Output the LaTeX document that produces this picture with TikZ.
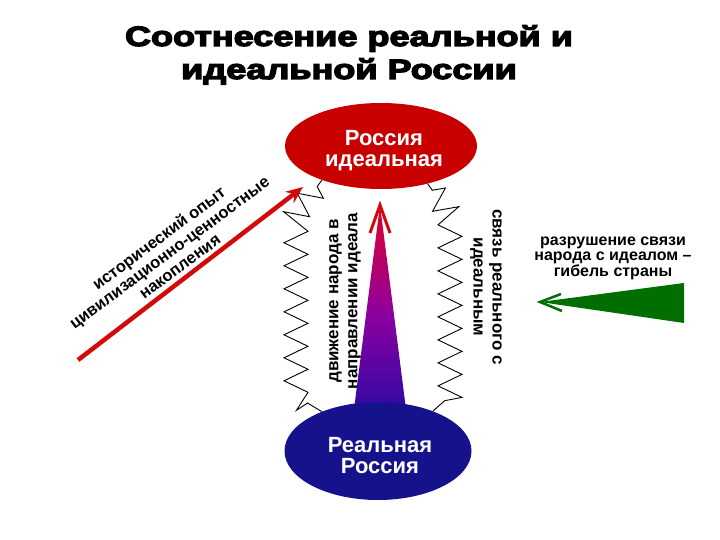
\documentclass[tikz,border=0pt]{standalone}
\usepackage{fontspec}
\setmainfont{Liberation Sans}
\newfontfamily\heavyfont[FakeBold=4]{Liberation Sans}
\usetikzlibrary{shapes.geometric, arrows.meta, decorations.pathmorphing, calc}
\definecolor{idealred}{RGB}{200,0,0}
\definecolor{realblue}{RGB}{22,18,140}
\definecolor{arrowred}{RGB}{210,10,10}
\definecolor{darkgreen}{RGB}{0,110,0}
\definecolor{tritop}{RGB}{225,0,45}
\definecolor{trimid}{RGB}{140,0,160}
\definecolor{tribot}{RGB}{35,10,165}
\begin{document}
\begin{tikzpicture}[x=1pt,y=-1pt,
  blob/.style={ellipse, inner sep=0pt},
  blobtxt/.style={inner sep=0pt, text=white, font=\fontsize{22}{21}\selectfont\bfseries, align=center},
  lbl/.style={font=\fontsize{16.5}{17.5}\selectfont\bfseries, align=center, inner sep=0pt},
  rlbl/.style={font=\fontsize{16}{15.5}\selectfont\bfseries, align=center, inner sep=0pt},
  vlbl/.style={font=\fontsize{17}{19}\selectfont\bfseries, align=center, inner sep=0pt},
  wavy/.style={black, line width=0.9pt, decorate, decoration={zigzag, segment length=23pt, amplitude=12pt, pre length=8pt, post length=6pt}},
]
\useasboundingbox (0,0) rectangle (720,540);
\fill[white] (0,0) rectangle (720,540);

% title
\node[anchor=base, inner sep=0pt] (title) at (349,46)
  {\fontsize{28}{33}\selectfont\heavyfont\bfseries
   \resizebox{448pt}{\height}{\begin{tabular}[t]{@{}c@{}}Соотнесение реальной и\\идеальной России\end{tabular}}};

% gradient triangle (behind ellipses)
\coordinate (apex) at (380,205);
\path[top color=tritop, bottom color=tribot, middle color=trimid] (apex) -- (408,425) -- (352,425) -- cycle;

% ellipses
\node[blob, fill=idealred, minimum width=192pt, minimum height=86pt] (ideal) at (381,146) {};
\node[blobtxt] (idealtxt) at (384,151) {Россия\\идеальная};
\node[blob, fill=realblue, minimum width=187pt, minimum height=98pt] (real) at (378,451) {};
\node[blobtxt] (realtxt) at (380,456) {Реальная\\Россия};

% red barbs at apex
\draw[arrowred, line width=3pt, line join=miter] (370,233) -- (apex) -- (390,233);

% zigzags
\draw[wavy] (ideal.210) -- (296,215) -- (296,396) -- (real.145);
\draw[wavy] (ideal.321) -- (450,215) -- (450,396) -- (real.36);

% historic arrow
\coordinate (histstart) at (78,360);
\coordinate (histend) at (303,187);
\draw[arrowred, line width=4.5pt, -{Stealth[length=17pt, width=14pt]}] (histstart) -- (histend);
\node[lbl, rotate=36.5] (hist) at (169,252) {исторический опыт\\цивилизационно-ценностные\\накопления};

% vertical labels
\node[vlbl, rotate=90] (move) at (345,301) {движение народа в\\направлении идеала};
\node[vlbl, rotate=-90] (link) at (486,287) {связь реального с\\идеальным};

% right text and green arrow
\node[rlbl] (ruin) at (613,258) {разрушение связи\\народа с идеалом –\\гибель страны};
\coordinate (gtip) at (540,302);
\fill[darkgreen] (gtip) -- (684,283) -- (684,323) -- cycle;
\draw[darkgreen, line width=2.5pt] (561,294) -- (gtip) -- (562,311);
\end{tikzpicture}
\end{document}
